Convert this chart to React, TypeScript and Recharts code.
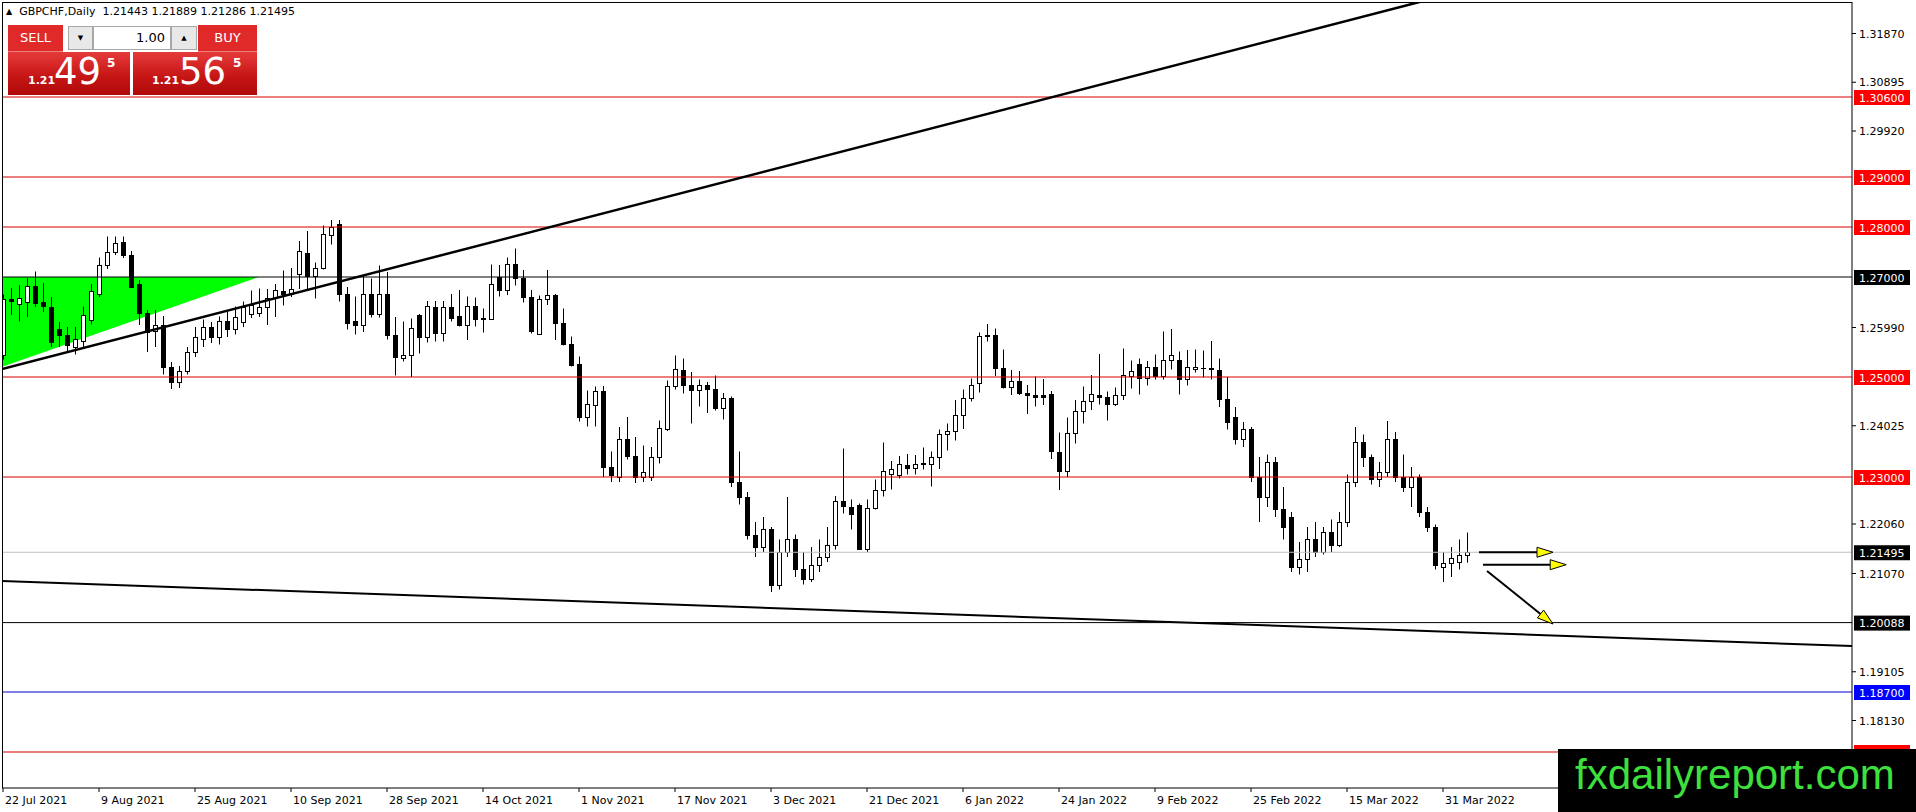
import React from 'react';
import { ComposedChart, Bar, Area, XAxis, YAxis, ReferenceLine } from 'recharts';

// GBPCHF daily, 22 Jul 2021 .. 5 Apr 2022 (bar index 0..183)
const X_LABELS = [
  '22 Jul 2021', '9 Aug 2021', '25 Aug 2021', '10 Sep 2021', '28 Sep 2021', '14 Oct 2021',
  '1 Nov 2021', '17 Nov 2021', '3 Dec 2021', '21 Dec 2021', '6 Jan 2022', '24 Jan 2022',
  '9 Feb 2022', '25 Feb 2022', '15 Mar 2022', '31 Mar 2022',
];
const X_TICKS = X_LABELS.map((_, k) => k * 12);
const Y_TICKS = [1.3187, 1.30895, 1.2992, 1.2599, 1.24025, 1.2206, 1.2107, 1.19105, 1.1813];

const OPEN = [
  1.2545, 1.2656, 1.2646, 1.2650, 1.2682, 1.2651, 1.2640, 1.2595, 1.2585, 1.2560,
  1.2572, 1.2614, 1.2666, 1.2723, 1.2750, 1.2770, 1.2744, 1.2686, 1.2628, 1.2592,
  1.2604, 1.2520, 1.2490, 1.2512, 1.2550, 1.2575, 1.2600, 1.2580, 1.2612, 1.2595,
  1.2610, 1.2627, 1.2629, 1.2640, 1.2658, 1.2672, 1.2665, 1.2707, 1.2749, 1.2701,
  1.2717, 1.2783, 1.2807, 1.2667, 1.2612, 1.2605, 1.2667, 1.2626, 1.2667, 1.2585,
  1.2538, 1.2545, 1.2624, 1.2579, 1.2639, 1.2589, 1.2639, 1.2621, 1.2605, 1.2642,
  1.2617, 1.2615, 1.2699, 1.2673, 1.2727, 1.2697, 1.2659, 1.2587, 1.2655, 1.2664,
  1.2609, 1.2567, 1.2526, 1.2419, 1.2444, 1.2472, 1.2320, 1.2300, 1.2375, 1.2342,
  1.2300, 1.2300, 1.2340, 1.2395, 1.2481, 1.2513, 1.2483, 1.2473, 1.2485, 1.2475,
  1.2437, 1.2458, 1.2290, 1.2260, 1.2185, 1.2160, 1.2195, 1.2085, 1.2150, 1.2175,
  1.2115, 1.2095, 1.2125, 1.2140, 1.2165, 1.2251, 1.2239, 1.2245, 1.2155, 1.2237,
  1.2274, 1.2307, 1.2305, 1.2325, 1.2317, 1.2327, 1.2327, 1.2339, 1.2386, 1.2391,
  1.2425, 1.2457, 1.2489, 1.2582, 1.2584, 1.2517, 1.2479, 1.2492, 1.2469, 1.2463,
  1.2463, 1.2466, 1.2349, 1.2311, 1.2389, 1.2432, 1.2452, 1.2464, 1.2460, 1.2447,
  1.2465, 1.2502, 1.2527, 1.2497, 1.2519, 1.2501, 1.2534, 1.2534, 1.2495, 1.2516,
  1.2518, 1.2518, 1.2514, 1.2455, 1.2420, 1.2375, 1.2395, 1.2300, 1.2260, 1.2330,
  1.2235, 1.2220, 1.2120, 1.2135, 1.2175, 1.2150, 1.2190, 1.2165, 1.2210, 1.2290,
  1.2370, 1.2340, 1.2295, 1.2310, 1.2375, 1.2300, 1.2280, 1.2300, 1.2230, 1.2200,
  1.2120, 1.2128, 1.2130, 1.21443,
];
const HIGH = [
  1.2665, 1.2678, 1.2684, 1.2698, 1.2711, 1.2688, 1.2660, 1.2610, 1.2600, 1.2600,
  1.2641, 1.2686, 1.2739, 1.2781, 1.2781, 1.2781, 1.2752, 1.2694, 1.2634, 1.2634,
  1.2622, 1.2530, 1.2522, 1.2560, 1.2600, 1.2615, 1.2610, 1.2621, 1.2631, 1.2641,
  1.2651, 1.2673, 1.2677, 1.2676, 1.2686, 1.2713, 1.2718, 1.2772, 1.2792, 1.2729,
  1.2803, 1.2814, 1.2814, 1.2680, 1.2661, 1.2704, 1.2697, 1.2723, 1.2710, 1.2620,
  1.2611, 1.2617, 1.2626, 1.2652, 1.2652, 1.2652, 1.2666, 1.2674, 1.2661, 1.2659,
  1.2637, 1.2725, 1.2724, 1.2739, 1.2757, 1.2714, 1.2674, 1.2663, 1.2714, 1.2666,
  1.2637, 1.2581, 1.2541, 1.2473, 1.2481, 1.2482, 1.2351, 1.2400, 1.2420, 1.2380,
  1.2363, 1.2360, 1.2413, 1.2493, 1.2543, 1.2537, 1.2510, 1.2495, 1.2490, 1.2503,
  1.2468, 1.2461, 1.2351, 1.2270, 1.2210, 1.2220, 1.2200, 1.2175, 1.2260, 1.2185,
  1.2150, 1.2160, 1.2175, 1.2200, 1.2262, 1.2357, 1.2255, 1.2247, 1.2255, 1.2295,
  1.2369, 1.2332, 1.2342, 1.2346, 1.2344, 1.2359, 1.2351, 1.2395, 1.2407, 1.2454,
  1.2475, 1.2497, 1.2589, 1.2606, 1.2597, 1.2555, 1.2514, 1.2512, 1.2484, 1.2501,
  1.2496, 1.2472, 1.2389, 1.2419, 1.2454, 1.2481, 1.2504, 1.2546, 1.2471, 1.2479,
  1.2557, 1.2533, 1.2537, 1.2532, 1.2545, 1.2591, 1.2596, 1.2551, 1.2554, 1.2555,
  1.2553, 1.2572, 1.2537, 1.2500, 1.2440, 1.2410, 1.2400, 1.2340, 1.2345, 1.2340,
  1.2280, 1.2230, 1.2170, 1.2200, 1.2210, 1.2200, 1.2215, 1.2230, 1.2305, 1.2400,
  1.2385, 1.2345, 1.2330, 1.2412, 1.2390, 1.2345, 1.2320, 1.2305, 1.2240, 1.2205,
  1.2150, 1.2160, 1.2175, 1.21889,
];
const LOW = [
  1.2535, 1.2624, 1.2611, 1.2620, 1.2640, 1.2630, 1.2560, 1.2560, 1.2548, 1.2545,
  1.2560, 1.2605, 1.2660, 1.2716, 1.2744, 1.2738, 1.2678, 1.2604, 1.2550, 1.2560,
  1.2505, 1.2476, 1.2478, 1.2505, 1.2540, 1.2560, 1.2568, 1.2565, 1.2580, 1.2585,
  1.2600, 1.2618, 1.2620, 1.2604, 1.2620, 1.2643, 1.2660, 1.2676, 1.2676, 1.2657,
  1.2715, 1.2765, 1.2651, 1.2595, 1.2585, 1.2590, 1.2619, 1.2619, 1.2575, 1.2503,
  1.2531, 1.2500, 1.2547, 1.2569, 1.2571, 1.2571, 1.2611, 1.2601, 1.2574, 1.2601,
  1.2589, 1.2614, 1.2661, 1.2664, 1.2683, 1.2649, 1.2587, 1.2585, 1.2644, 1.2574,
  1.2563, 1.2521, 1.2411, 1.2401, 1.2401, 1.2300, 1.2290, 1.2290, 1.2335, 1.2288,
  1.2290, 1.2292, 1.2327, 1.2392, 1.2475, 1.2467, 1.2407, 1.2441, 1.2428, 1.2433,
  1.2415, 1.2280, 1.2245, 1.2175, 1.2140, 1.2150, 1.2070, 1.2075, 1.2140, 1.2100,
  1.2085, 1.2090, 1.2110, 1.2130, 1.2155, 1.2227, 1.2195, 1.2154, 1.2150, 1.2235,
  1.2261, 1.2275, 1.2297, 1.2305, 1.2305, 1.2315, 1.2281, 1.2316, 1.2353, 1.2373,
  1.2396, 1.2451, 1.2469, 1.2571, 1.2502, 1.2477, 1.2464, 1.2464, 1.2426, 1.2441,
  1.2444, 1.2336, 1.2274, 1.2300, 1.2367, 1.2407, 1.2434, 1.2445, 1.2413, 1.2442,
  1.2454, 1.2477, 1.2465, 1.2483, 1.2495, 1.2495, 1.2515, 1.2465, 1.2483, 1.2509,
  1.2499, 1.2495, 1.2440, 1.2395, 1.2365, 1.2360, 1.2290, 1.2210, 1.2240, 1.2220,
  1.2175, 1.2110, 1.2105, 1.2110, 1.2140, 1.2145, 1.2150, 1.2160, 1.2200, 1.2280,
  1.2320, 1.2285, 1.2280, 1.2300, 1.2290, 1.2270, 1.2240, 1.2220, 1.2190, 1.2115,
  1.2090, 1.2100, 1.2115, 1.21286,
];
const CLOSE = [
  1.2656, 1.2652, 1.2658, 1.2682, 1.2648, 1.2641, 1.2570, 1.2585, 1.2565, 1.2575,
  1.2624, 1.2672, 1.2723, 1.2750, 1.2768, 1.2744, 1.2680, 1.2628, 1.2590, 1.2604,
  1.2520, 1.2490, 1.2512, 1.2550, 1.2580, 1.2600, 1.2580, 1.2612, 1.2595, 1.2620,
  1.2640, 1.2644, 1.2640, 1.2658, 1.2673, 1.2665, 1.2675, 1.2752, 1.2701, 1.2717,
  1.2785, 1.2799, 1.2667, 1.2609, 1.2605, 1.2667, 1.2626, 1.2667, 1.2585, 1.2540,
  1.2545, 1.2597, 1.2579, 1.2642, 1.2589, 1.2639, 1.2617, 1.2604, 1.2642, 1.2615,
  1.2615, 1.2687, 1.2673, 1.2727, 1.2697, 1.2659, 1.2592, 1.2656, 1.2664, 1.2609,
  1.2566, 1.2524, 1.2419, 1.2446, 1.2472, 1.2320, 1.2305, 1.2375, 1.2342, 1.2300,
  1.2310, 1.2340, 1.2398, 1.2481, 1.2515, 1.2483, 1.2473, 1.2485, 1.2475, 1.2437,
  1.2458, 1.2290, 1.2260, 1.2185, 1.2160, 1.2195, 1.2085, 1.2150, 1.2175, 1.2115,
  1.2095, 1.2125, 1.2140, 1.2165, 1.2251, 1.2241, 1.2227, 1.2155, 1.2237, 1.2274,
  1.2312, 1.2315, 1.2327, 1.2317, 1.2327, 1.2328, 1.2339, 1.2386, 1.2391, 1.2425,
  1.2457, 1.2483, 1.2582, 1.2583, 1.2517, 1.2479, 1.2492, 1.2469, 1.2463, 1.2460,
  1.2460, 1.2351, 1.2311, 1.2389, 1.2432, 1.2452, 1.2467, 1.2459, 1.2447, 1.2465,
  1.2503, 1.2511, 1.2497, 1.2519, 1.2501, 1.2534, 1.2543, 1.2495, 1.2519, 1.2519,
  1.2517, 1.2515, 1.2455, 1.2410, 1.2375, 1.2395, 1.2300, 1.2260, 1.2330, 1.2235,
  1.2200, 1.2120, 1.2135, 1.2175, 1.2150, 1.2190, 1.2165, 1.2210, 1.2290, 1.2370,
  1.2340, 1.2295, 1.2310, 1.2375, 1.2300, 1.2280, 1.2300, 1.2230, 1.2200, 1.2125,
  1.2128, 1.2138, 1.2144, 1.21495,
];

// horizontal levels drawn on the chart
const RED_LEVELS = [1.306, 1.29, 1.28, 1.25, 1.23];
const HIDDEN_RED_LEVELS = [1.175]; // its price tag sits under the watermark
const BLACK_LEVELS = [1.27, 1.20088];
const BLUE_LEVELS = [1.187];
const BID = 1.21495;

// drawing objects, in (bar index, price)
const RISING_LINE = [{ x: -0.125, y: 1.2516 }, { x: 177.3, y: 1.3251 }];
const FALLING_LINE = [{ x: -0.125, y: 1.2092 }, { x: 231.125, y: 1.1962 }];
const ARROWS = [
  [{ x: 184.5, y: 1.21495 }, { x: 193.75, y: 1.21495 }],
  [{ x: 185, y: 1.21246 }, { x: 195.4, y: 1.21246 }],
  [{ x: 185.5, y: 1.2112 }, { x: 193.75, y: 1.2006 }],
];
const TRIANGLE_BARS = [0, 32];
const TRIANGLE_LOW = [1.2521, 1.27];
const TRIANGLE_HIGH = [1.27, 1.27];

const Y_DOMAIN = [1.1678, 1.325];
const X_DOMAIN = [-0.125, 231.125];

const FONT = '"DejaVu Sans", sans-serif';

const rows = OPEN.map((o, i) => {
  const t = TRIANGLE_BARS.indexOf(i);
  return {
    i,
    open: o,
    high: HIGH[i],
    low: LOW[i],
    close: CLOSE[i],
    range: [LOW[i], HIGH[i]],
    tri: t >= 0 ? [TRIANGLE_LOW[t], TRIANGLE_HIGH[t]] : null,
  };
});

function Candle(props: any) {
  const { x, y, width, height, payload } = props;
  if (!payload || height == null) return null;
  const { open, close, high, low } = payload;
  const cx = Math.round(x + width / 2) + 0.5;
  const k = high - low ? height / (high - low) : 0;
  const py = (p: number) => y + (high - p) * k;
  const top = Math.round(py(Math.max(open, close))) + 0.5;
  const bot = Math.round(py(Math.min(open, close))) + 0.5;
  const up = close >= open;
  return (
    <g>
      <line x1={cx} x2={cx} y1={y} y2={y + height} stroke="#000" strokeWidth={1} />
      <rect x={cx - 2} y={top} width={4} height={Math.max(bot - top, 0.01)} fill={up ? '#fff' : '#000'} stroke="#000" strokeWidth={1} />
    </g>
  );
}

const priceTag = (bg: string, value: number, withText = true) => (props: any) => {
  const vb = props.viewBox || {};
  const yy = vb.y;
  const xx = (vb.x || 0) + (vb.width || 0) + 2;
  return (
    <g>
      <rect x={xx} y={yy - 7} width={56} height={15} fill={bg} />
      {withText && (
        <text x={xx + 5} y={yy + 4.5} fill="#fff" fontSize={11} fontFamily={FONT}>{value.toFixed(5)}</text>
      )}
    </g>
  );
};

const arrowShape = (p: any) => {
  const { x1, y1, x2, y2 } = p;
  const dx = x2 - x1;
  const dy = y2 - y1;
  const len = Math.hypot(dx, dy) || 1;
  const ux = dx / len;
  const uy = dy / len;
  const bx = x2 - ux * 16;
  const by = y2 - uy * 16;
  const nx = -uy * 5;
  const ny = ux * 5;
  return (
    <g>
      <line x1={x1} y1={y1} x2={bx} y2={by} stroke="#000" strokeWidth={2} />
      <polygon points={`${x2},${y2} ${bx + nx},${by + ny} ${bx - nx},${by - ny}`} fill="#ffff00" stroke="#000" strokeWidth={1} />
    </g>
  );
};

const XTick = ({ x, y, payload }: any) => (
  <text x={x + 2} y={y} dy={10} fontSize={11} fontFamily={FONT} fill="#000">
    {X_LABELS[Math.round(payload.value / 12)]}
  </text>
);

const YTick = ({ x, y, payload }: any) => (
  <text x={x + 1} y={y} dy={4} fontSize={11} fontFamily={FONT} fill="#000">
    {Number(payload.value).toFixed(5)}
  </text>
);

function TradePanel() {
  const red = 'linear-gradient(#e63a3a, #c41414 60%, #b00a0a)';
  const box = { position: 'absolute', boxSizing: 'border-box' } as const;
  return (
    <div style={{ position: 'absolute', left: 0, top: 0, fontFamily: FONT, color: '#fff' }}>
      <div style={{ ...box, left: 8, top: 25, width: 55, height: 27, background: '#e02a2a', borderBottom: '1px solid #f08080', fontSize: 13, textAlign: 'center', lineHeight: '26px' }}>SELL</div>
      <div style={{ ...box, left: 68, top: 26, width: 25, height: 24, background: '#e8e8e8', border: '1px solid #a8a8a8', color: '#000', fontSize: 7, textAlign: 'center', lineHeight: '22px' }}>▼</div>
      <div style={{ ...box, left: 93, top: 26, width: 78, height: 24, background: '#fff', border: '1px solid #a8a8a8', color: '#000', fontSize: 13, textAlign: 'right', paddingRight: 5, lineHeight: '22px' }}>1.00</div>
      <div style={{ ...box, left: 171, top: 26, width: 26, height: 24, background: '#e8e8e8', border: '1px solid #a8a8a8', color: '#000', fontSize: 7, textAlign: 'center', lineHeight: '22px' }}>▲</div>
      <div style={{ ...box, left: 198, top: 25, width: 59, height: 27, background: '#e02a2a', borderBottom: '1px solid #f08080', fontSize: 13, textAlign: 'center', lineHeight: '26px' }}>BUY</div>
      <div style={{ ...box, left: 8, top: 52, width: 122, height: 43, background: red }}>
        <span style={{ position: 'absolute', left: 20, top: 22, fontSize: 11, fontWeight: 'bold' }}>1.21</span>
        <span style={{ position: 'absolute', left: 46, top: -2, fontSize: 37 }}>49</span>
        <span style={{ position: 'absolute', left: 99, top: 4, fontSize: 12, fontWeight: 'bold' }}>5</span>
      </div>
      <div style={{ ...box, left: 133, top: 52, width: 124, height: 43, background: red }}>
        <span style={{ position: 'absolute', left: 19, top: 22, fontSize: 11, fontWeight: 'bold' }}>1.21</span>
        <span style={{ position: 'absolute', left: 46, top: -2, fontSize: 37 }}>56</span>
        <span style={{ position: 'absolute', left: 100, top: 4, fontSize: 12, fontWeight: 'bold' }}>5</span>
      </div>
    </div>
  );
}

export default function App() {
  return (
    <div style={{ position: 'absolute', left: 0, top: 0, width: 1916, height: 812, background: '#fff', overflow: 'hidden' }}>
      <ComposedChart width={1916} height={812} data={rows} margin={{ top: 2, right: 0, bottom: 0, left: 2 }}>
        <XAxis
          dataKey="i"
          type="number"
          domain={X_DOMAIN}
          allowDataOverflow
          ticks={X_TICKS}
          interval={0}
          height={24}
          tickSize={4}
          tick={<XTick />}
          axisLine={{ stroke: '#000' }}
          tickLine={{ stroke: '#000' }}
        />
        <YAxis
          orientation="right"
          type="number"
          domain={Y_DOMAIN}
          allowDataOverflow
          ticks={Y_TICKS}
          interval={0}
          width={64}
          tickSize={4}
          tick={<YTick />}
          axisLine={{ stroke: '#000' }}
          tickLine={{ stroke: '#000' }}
        />
        <Area dataKey="tri" type="linear" connectNulls fill="#00ff00" fillOpacity={1} stroke="none" isAnimationActive={false} dot={false} activeDot={false} />
        {RED_LEVELS.map((p) => (
          <ReferenceLine key={'r' + p} y={p} stroke="#d80000" strokeWidth={1} label={priceTag('#ff0000', p)} />
        ))}
        {HIDDEN_RED_LEVELS.map((p) => (
          <ReferenceLine key={'h' + p} y={p} stroke="#d80000" strokeWidth={1} label={priceTag('#ff0000', p, false)} />
        ))}
        {BLACK_LEVELS.map((p) => (
          <ReferenceLine key={'k' + p} y={p} stroke="#000" strokeWidth={1} label={priceTag('#000', p)} />
        ))}
        {BLUE_LEVELS.map((p) => (
          <ReferenceLine key={'b' + p} y={p} stroke="#0000d0" strokeWidth={1} label={priceTag('#0000ff', p)} />
        ))}
        <ReferenceLine y={BID} stroke="#c0c0c0" strokeWidth={1} label={priceTag('#000', BID)} />
        <ReferenceLine segment={RISING_LINE} stroke="#000" strokeWidth={2.5} ifOverflow="hidden" />
        <ReferenceLine segment={FALLING_LINE} stroke="#000" strokeWidth={2} ifOverflow="hidden" />
        <Bar dataKey="range" barSize={5} shape={<Candle />} isAnimationActive={false} />
        {ARROWS.map((seg, k) => (
          <ReferenceLine key={'a' + k} segment={seg} shape={arrowShape} ifOverflow="visible" />
        ))}
      </ComposedChart>
      <div style={{ position: 'absolute', left: 2, top: 2, width: 1850, height: 786, borderTop: '1px solid #000', borderLeft: '1px solid #000', boxSizing: 'border-box', pointerEvents: 'none' }} />
      <div style={{ position: 'absolute', left: 6, top: 5, fontFamily: FONT, fontSize: 11, color: '#000', whiteSpace: 'pre' }}>
        <span style={{ fontSize: 8, verticalAlign: 1 }}>▲</span>{'  GBPCHF,Daily  1.21443 1.21889 1.21286 1.21495'}
      </div>
      <TradePanel />
      <div style={{ position: 'absolute', left: 1558, top: 749, width: 358, height: 63, background: '#000', overflow: 'hidden' }}>
        <div style={{ position: 'absolute', left: 17, top: 2, fontFamily: '"Liberation Sans", Arial, sans-serif', fontSize: 42, color: '#3ee03e', whiteSpace: 'nowrap', lineHeight: '48px' }}>fxdailyreport.com</div>
      </div>
    </div>
  );
}
